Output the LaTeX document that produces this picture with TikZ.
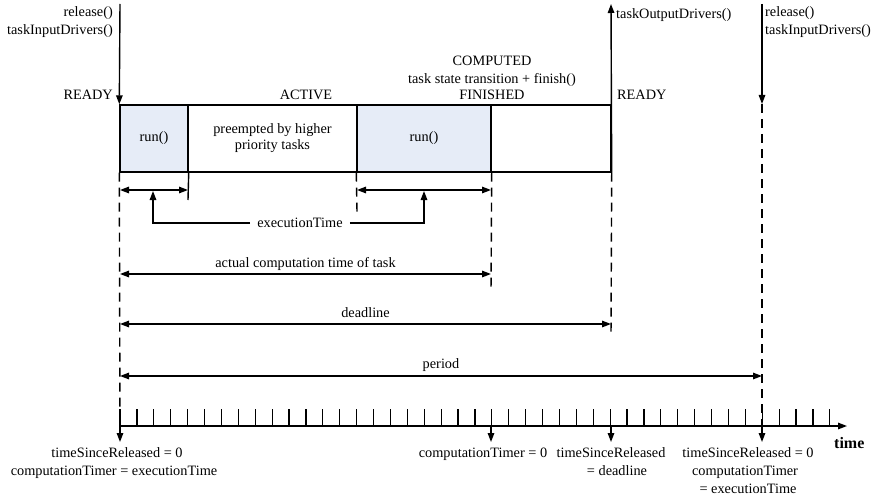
\documentclass[tikz,border=0pt]{standalone}
\usepackage{fontspec}
\setmainfont{Liberation Serif}
\usetikzlibrary{arrows.meta}
\definecolor{runfill}{RGB}{230,236,247}
\tikzset{
  lbl/.style={inner sep=0pt, font=\fontsize{14.3}{17.5}\selectfont},
  seg/.style={draw, line width=1.4pt, minimum height=67pt, inner sep=0pt,
              align=center, font=\fontsize{14.3}{16}\selectfont},
  tip/.style={-{Triangle[length=9pt,width=6.5pt]}},
  dtip/.style={{Triangle[length=9pt,width=6.5pt]}-{Triangle[length=9pt,width=6.5pt]}},
  ln/.style={line width=1.4pt},
  dsh/.style={line width=1.4pt, dash pattern=on 9pt off 6pt},
}
\begin{document}
\begin{tikzpicture}[x=1pt,y=-1pt]
\useasboundingbox (0,0) rectangle (874,497);

% task timeline boxes
\node[seg, fill=runfill, minimum width=68pt]  (run1) at (154,138.5)   {run()};
\node[seg, minimum width=169pt]               (pre)  at (272.5,138.5) {preempted by higher\\priority tasks};
\node[seg, fill=runfill, minimum width=134pt] (run2) at (424,138.5)   {run()};
\node[seg, minimum width=120pt]               (idle) at (551,138.5)   {};

% points used by connectors
\coordinate (relL)  at (120,4);
\coordinate (outT)  at (611,4);
\coordinate (relR)  at (762,4);
\coordinate (rdyR)  at (762,104);
\coordinate (ax0)   at (120,426);
\coordinate (axE)   at (847,426);
\coordinate (axC)   at (491,426);
\coordinate (axD)   at (611,426);
\coordinate (axP)   at (762,426);
\coordinate (dn0)   at (120,442);
\coordinate (dnC)   at (491,442);
\coordinate (dnD)   at (611,442);
\coordinate (dnP)   at (762,442);
\coordinate (tk1)   at (188,200);
\coordinate (tk2)   at (357,212);
\coordinate (tk3)   at (491,292);
\coordinate (tk4)   at (611,337);

% state-change arrows
\draw[ln,tip] (relL) -- (run1.north west);
\draw[ln,tip] (idle.south east) -- (outT);
\draw[ln,tip] (relR) -- (rdyR);

% guide lines
\draw[dsh] (run1.south west) -- (ax0);
\draw[ln]  (run1.south east) -- (tk1);
\draw[dsh] (run2.south west) -- (tk2);
\draw[dsh] (run2.south east) -- (tk3);
\draw[dsh] (idle.south east) -- (tk4);
\draw[dsh] (rdyR) -- (axP);

% upper labels
\node[lbl, anchor=base east] (l1) at (113,17) {release()};
\node[lbl, anchor=base east] (l2) at (113,35) {taskInputDrivers()};
\node[lbl, anchor=base east] (rdy1) at (113,100) {READY};
\node[lbl, anchor=base] (act) at (306,100) {ACTIVE};
\node[lbl, anchor=base] (cmp) at (492,66) {COMPUTED};
\node[lbl, anchor=base] (trn) at (492,83.5) {task state transition + finish()};
\node[lbl, anchor=base] (fin) at (492,100) {FINISHED};
\node[lbl, anchor=base west] (rdy2) at (617,100) {READY};
\node[lbl, anchor=base west] (out) at (616,19) {taskOutputDrivers()};
\node[lbl, anchor=base west] (r1) at (765,17) {release()};
\node[lbl, anchor=base west] (r2) at (765,35) {taskInputDrivers()};

% execution time spans
\coordinate (e1a) at (120,190);
\coordinate (e1b) at (188,190);
\coordinate (e2a) at (357,190);
\coordinate (e2b) at (491,190);
\coordinate (e1u) at (153,191);
\coordinate (e2u) at (424,191);
\draw[ln,dtip] (e1a) -- (e1b);
\draw[ln,dtip] (e2a) -- (e2b);
\node[lbl, inner xsep=7pt] (exec) at (300,223) {executionTime};
\draw[ln,tip] (exec.west) -| (e1u);
\draw[ln,tip] (exec.east) -| (e2u);

% durations
\coordinate (ca) at (120,274);
\coordinate (cb) at (491,274);
\coordinate (da) at (120,324);
\coordinate (db) at (611,324);
\coordinate (pa) at (120,376);
\coordinate (pb) at (762,376);
\draw[ln,dtip] (ca) -- (cb);
\draw[ln,dtip] (da) -- (db);
\draw[ln,dtip] (pa) -- (pb);
\node[lbl, anchor=base] (act2) at (305.5,267) {actual computation time of task};
\node[lbl, anchor=base] (dl) at (365.5,317) {deadline};
\node[lbl, anchor=base] (per) at (441,368) {period};

% time axis with ticks
\draw[ln,tip] (ax0) -- (axE);
\foreach \i in {0,...,42}
  \draw[line width=1.2pt] (120+\i*16.9,409) -- (120+\i*16.9,426);
\node[inner sep=0pt, anchor=base west, font=\fontsize{16}{18}\selectfont\bfseries] (tm) at (834,448) {time};

% events on the axis
\draw[ln,tip] (ax0) -- (dn0);
\draw[ln,tip] (axC) -- (dnC);
\draw[ln,tip] (axD) -- (dnD);
\draw[ln,tip] (axP) -- (dnP);

\node[lbl, anchor=base] (b1) at (117,457) {timeSinceReleased = 0};
\node[lbl, anchor=base] (b2) at (114,475) {computationTimer = executionTime};
\node[lbl, anchor=base] (b3) at (483,457) {computationTimer = 0};
\node[lbl, anchor=base] (b4) at (611,457) {timeSinceReleased};
\node[lbl, anchor=base] (b5) at (617,475) {= deadline};
\node[lbl, anchor=base] (b6) at (748,457) {timeSinceReleased = 0};
\node[lbl, anchor=base] (b7) at (745,475) {computationTimer};
\node[lbl, anchor=base] (b8) at (748,493) {= executionTime};
\end{tikzpicture}
\end{document}
